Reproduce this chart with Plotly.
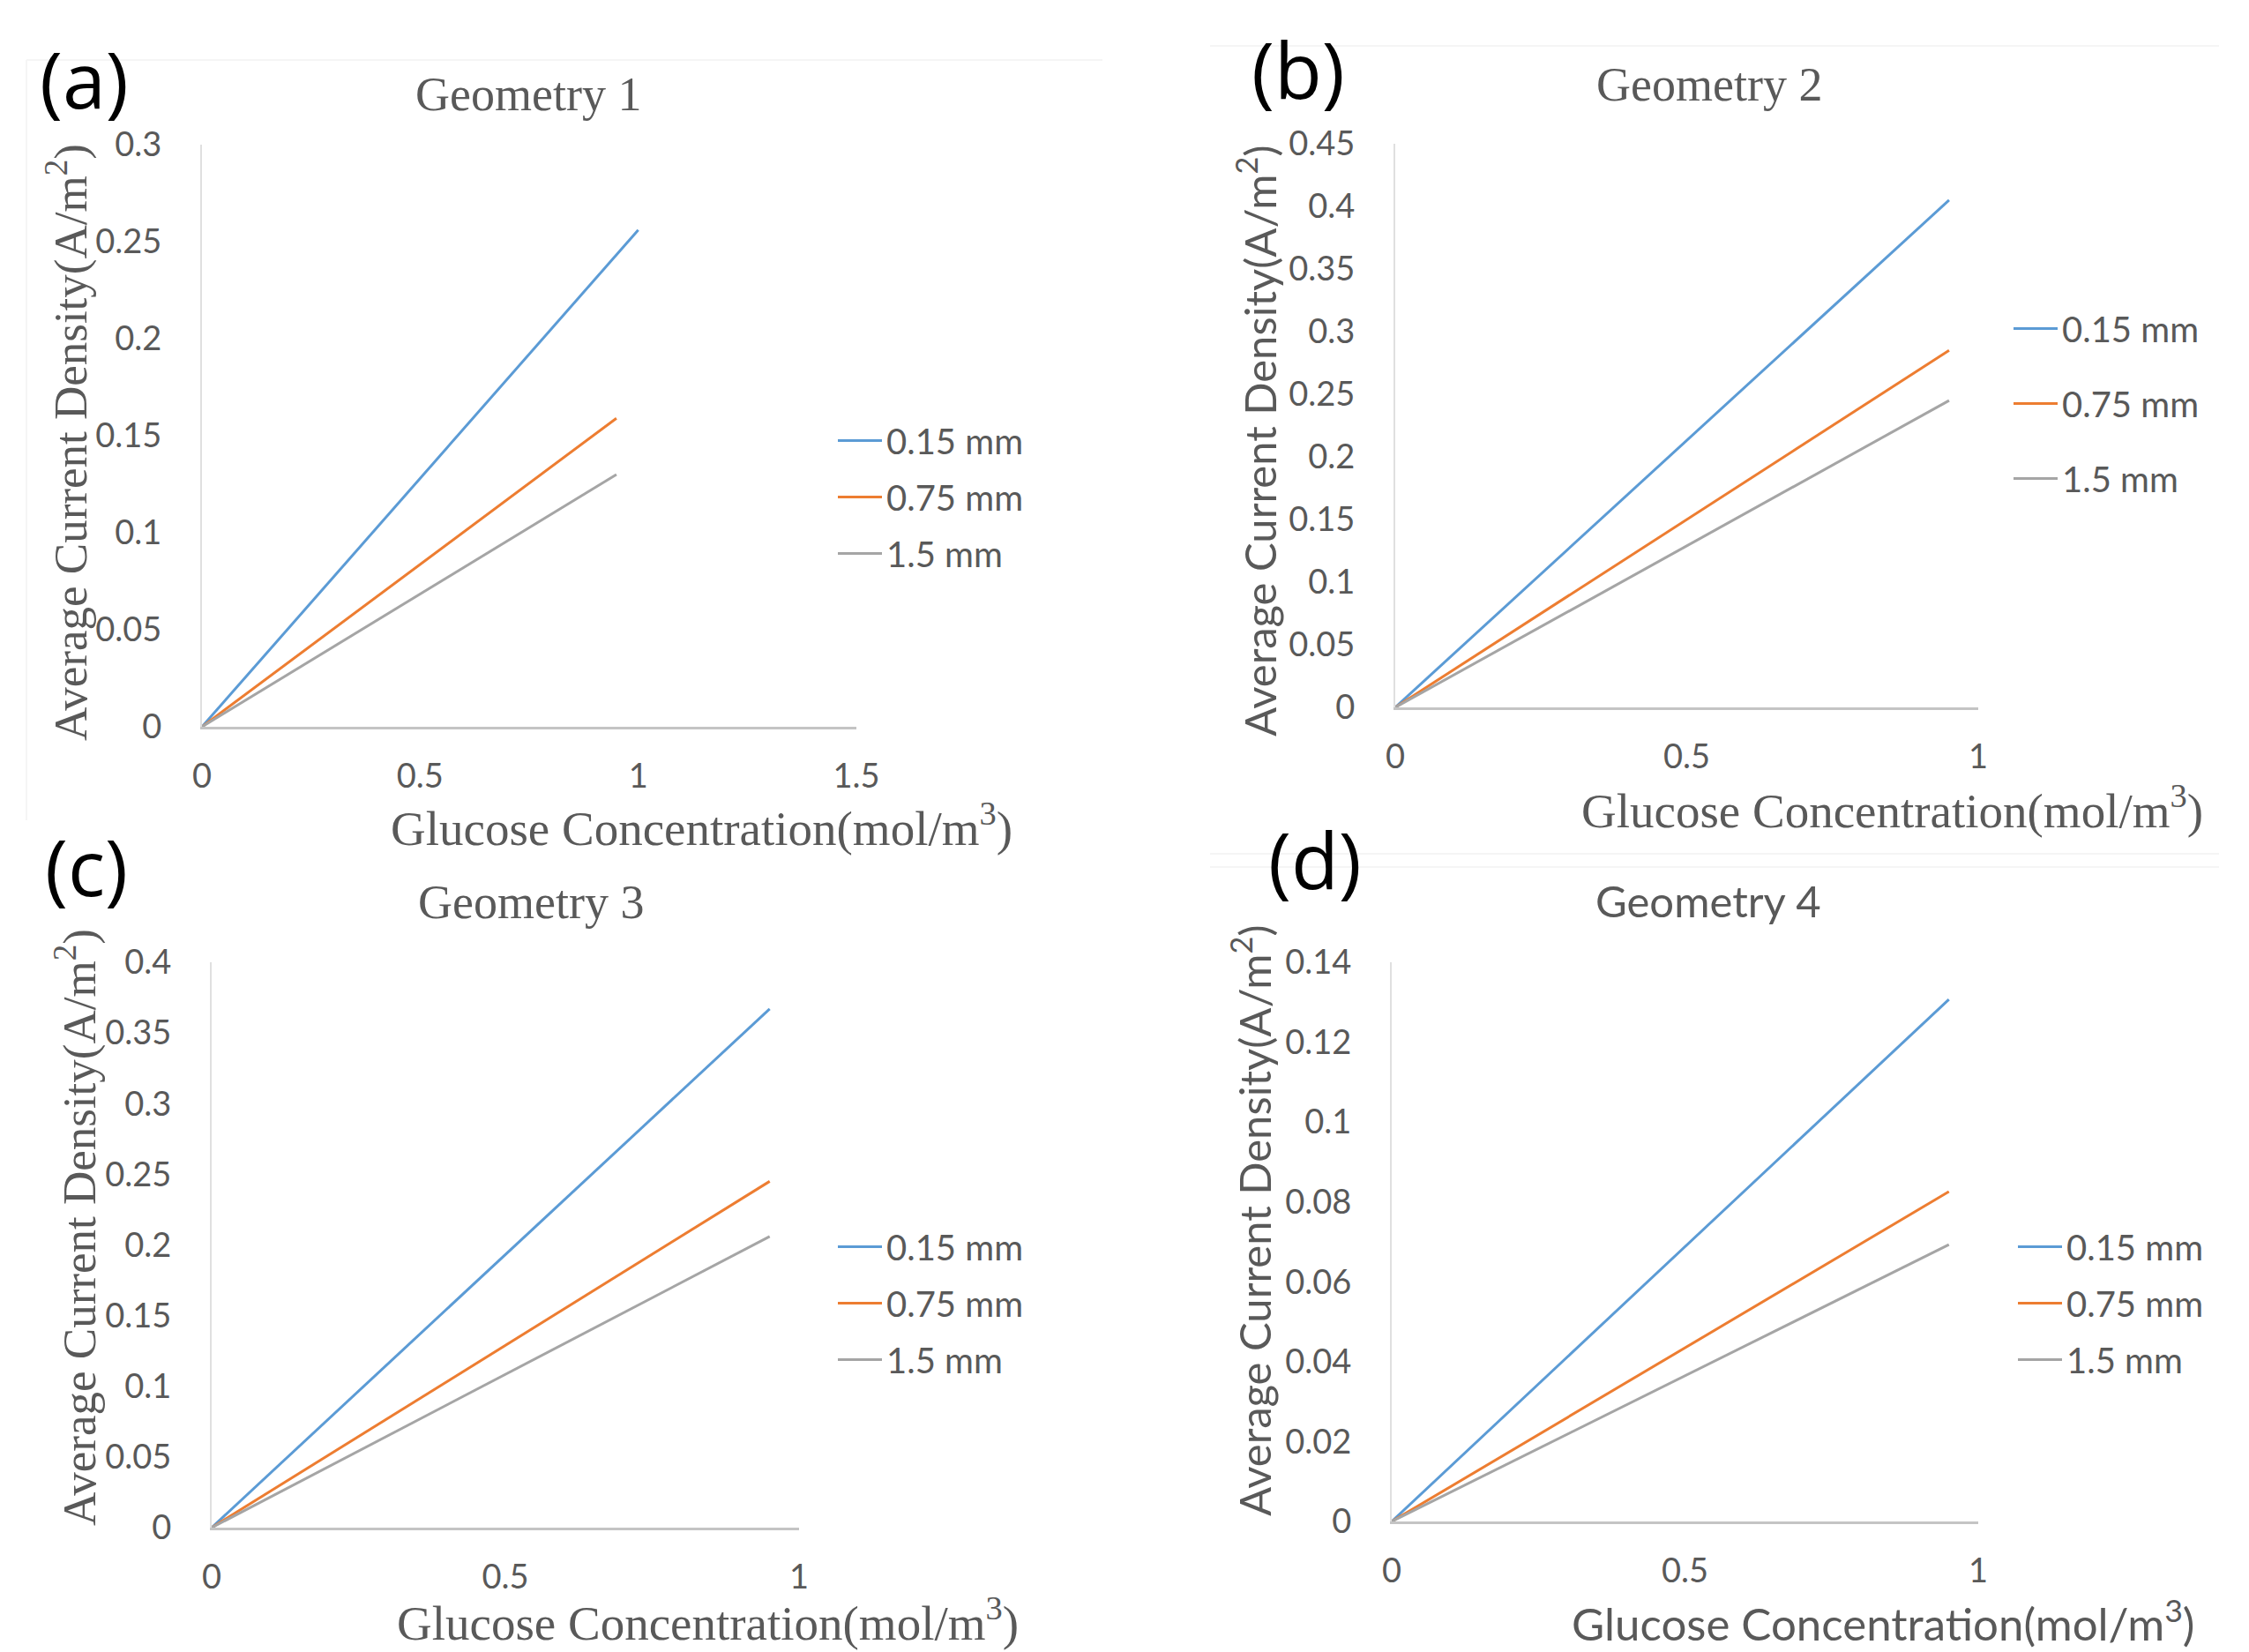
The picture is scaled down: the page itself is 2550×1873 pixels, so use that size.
import plotly.graph_objects as go

W, H = 2550, 1873

# ---------------- data ----------------
series_names = ["0.15 mm", "0.75 mm", "1.5 mm"]
series_colors = ["#5B9BD5", "#ED7D31", "#A5A5A5"]

# Geometry 1
geom1_x = [[0, 1.0], [0, 0.95], [0, 0.95]]
geom1_y = [[0, 0.256], [0, 0.159], [0, 0.130]]
# Geometry 2
geom2_x = [[0, 0.95], [0, 0.95], [0, 0.95]]
geom2_y = [[0, 0.405], [0, 0.285], [0, 0.245]]
# Geometry 3
geom3_x = [[0, 0.95], [0, 0.95], [0, 0.95]]
geom3_y = [[0, 0.367], [0, 0.245], [0, 0.206]]
# Geometry 4
geom4_x = [[0, 0.95], [0, 0.95], [0, 0.95]]
geom4_y = [[0, 0.1307], [0, 0.0826], [0, 0.0693]]

geom1_xticks = [0, 0.5, 1, 1.5]
geom1_xlabels = ["0", "0.5", "1", "1.5"]
geom1_yticks = [0, 0.05, 0.1, 0.15, 0.2, 0.25, 0.3]
geom1_ylabels = ["0", "0.05", "0.1", "0.15", "0.2", "0.25", "0.3"]

geomN_xticks = [0, 0.5, 1]
geomN_xlabels = ["0", "0.5", "1"]

geom2_yticks = [0, 0.05, 0.1, 0.15, 0.2, 0.25, 0.3, 0.35, 0.4, 0.45]
geom2_ylabels = ["0", "0.05", "0.1", "0.15", "0.2", "0.25", "0.3", "0.35", "0.4", "0.45"]
geom3_yticks = [0, 0.05, 0.1, 0.15, 0.2, 0.25, 0.3, 0.35, 0.4]
geom3_ylabels = ["0", "0.05", "0.1", "0.15", "0.2", "0.25", "0.3", "0.35", "0.4"]
geom4_yticks = [0, 0.02, 0.04, 0.06, 0.08, 0.1, 0.12, 0.14]
geom4_ylabels = ["0", "0.02", "0.04", "0.06", "0.08", "0.1", "0.12", "0.14"]

titles = ["Geometry 1", "Geometry 2", "Geometry 3", "Geometry 4"]
panel_letters = ["(a)", "(b)", "(c)", "(d)"]
xtitle = "Glucose Concentration(mol/m<sup>3</sup>)"
ytitle = "Average Current Density(A/m<sup>2</sup>)"

# ---------------- layout (pixel geometry) ----------------
SERIF = "Liberation Serif"
SANS = "Lato"
GREY = "#595959"

panels = [
    dict(xs=geom1_x, ys=geom1_y, xr=[0, 1.5], yr=[0, 0.3],
         xt=geom1_xticks, xl=geom1_xlabels, yt=geom1_yticks, yl=geom1_ylabels,
         px=(229, 971), py=(824, 164),
         title_pos=(599, 107), title_font=SERIF, title_size=54,
         xt_pos=(795, 935), xt_font=SERIF, xt_size=55,
         yt_pos=(76, 502), yt_font=SERIF, yt_size=53,
         letter_pos=(96, 89), legend_pos=(945, 467), gap=9),
    dict(xs=geom2_x, ys=geom2_y, xr=[0, 1], yr=[0, 0.45],
         xt=geomN_xticks, xl=geomN_xlabels, yt=geom2_yticks, yl=geom2_ylabels,
         px=(1582, 2243), py=(802, 163),
         title_pos=(1938, 96), title_font=SERIF, title_size=54,
         xt_pos=(2145, 915), xt_font=SERIF, xt_size=55,
         yt_pos=(1424, 500), yt_font=SANS, yt_size=49,
         letter_pos=(1472, 78), legend_pos=(2278, 340), gap=30),
    dict(xs=geom3_x, ys=geom3_y, xr=[0, 1], yr=[0, 0.4],
         xt=geomN_xticks, xl=geomN_xlabels, yt=geom3_yticks, yl=geom3_ylabels,
         px=(240, 906), py=(1732, 1091),
         title_pos=(602, 1023), title_font=SERIF, title_size=54,
         xt_pos=(802, 1836), xt_font=SERIF, xt_size=55,
         yt_pos=(86, 1392), yt_font=SERIF, yt_size=53,
         letter_pos=(98, 982), legend_pos=(945, 1381), gap=9),
    dict(xs=geom4_x, ys=geom4_y, xr=[0, 1], yr=[0, 0.14],
         xt=geomN_xticks, xl=geomN_xlabels, yt=geom4_yticks, yl=geom4_ylabels,
         px=(1578, 2243), py=(1725, 1091),
         title_pos=(1937, 1021), title_font=SANS, title_size=49,
         xt_pos=(2135, 1837), xt_font=SANS, xt_size=51,
         yt_pos=(1418, 1384), yt_font=SANS, yt_size=49,
         letter_pos=(1491, 974), legend_pos=(2283, 1381), gap=9),
]

# faint chart-area borders seen in the reference (x0, y0, x1, y1 in px)
faint_borders = [(30, 68, 1250, 68), (30, 68, 30, 930), (1372, 52, 2516, 52),
                 (1372, 968, 2516, 968), (1372, 983, 2516, 983)]


def fx(p):
    return p / W


def fy(p):
    return 1 - p / H


fig = go.Figure()
annotations = []
shapes = []
layout = dict(
    width=W, height=H, margin=dict(l=0, r=0, t=0, b=0, autoexpand=False),
    paper_bgcolor="white", plot_bgcolor="white", showlegend=True,
)

for i, p in enumerate(panels):
    k = i + 1
    xa = "x" if k == 1 else f"x{k}"
    ya = "y" if k == 1 else f"y{k}"
    lg = "legend" if k == 1 else f"legend{k}"
    for j, name in enumerate(series_names):
        fig.add_trace(go.Scatter(
            x=p["xs"][j], y=p["ys"][j], mode="lines", name=name,
            line=dict(color=series_colors[j], width=3),
            xaxis=xa, yaxis=ya, legend=lg, legendgroup=f"{k}-{j}",
            hoverinfo="skip",
        ))
    layout["xaxis" if k == 1 else f"xaxis{k}"] = dict(
        domain=[fx(p["px"][0]), fx(p["px"][1])], range=p["xr"], anchor=ya,
        tickvals=p["xt"], ticktext=p["xl"], showgrid=False, zeroline=False,
        showline=True, linecolor="#C4C4C4", linewidth=3, ticks="",
        automargin=False,
        ticklabelstandoff=20, tickfont=dict(family=SANS, size=38, color=GREY),
        fixedrange=True,
    )
    layout["yaxis" if k == 1 else f"yaxis{k}"] = dict(
        domain=[fy(p["py"][0]), fy(p["py"][1])], range=p["yr"], anchor=xa,
        tickvals=p["yt"], ticktext=p["yl"], showgrid=False, zeroline=False,
        showline=True, linecolor="#E0E0E0", linewidth=2, ticks="",
        automargin=False,
        ticklabelstandoff=36, tickfont=dict(family=SANS, size=38, color=GREY),
        fixedrange=True,
    )
    layout[lg] = dict(
        x=fx(p["legend_pos"][0]), y=fy(p["legend_pos"][1]),
        xanchor="left", yanchor="top", bgcolor="rgba(0,0,0,0)",
        font=dict(family=SANS, size=40, color=GREY),
        tracegroupgap=p["gap"], itemwidth=50,
    )
    annotations.append(dict(
        text=titles[i], x=fx(p["title_pos"][0]), y=fy(p["title_pos"][1]),
        xref="paper", yref="paper", showarrow=False, xanchor="center", yanchor="middle",
        font=dict(family=p["title_font"], size=p["title_size"], color=GREY)))
    annotations.append(dict(
        text=xtitle, x=fx(p["xt_pos"][0]), y=fy(p["xt_pos"][1]),
        xref="paper", yref="paper", showarrow=False, xanchor="center", yanchor="middle",
        font=dict(family=p["xt_font"], size=p["xt_size"], color=GREY)))
    annotations.append(dict(
        text=ytitle, x=fx(p["yt_pos"][0]), y=fy(p["yt_pos"][1]), textangle=-90,
        xref="paper", yref="paper", showarrow=False, xanchor="center", yanchor="middle",
        font=dict(family=p["yt_font"], size=p["yt_size"], color=GREY)))
    annotations.append(dict(
        text=panel_letters[i], x=fx(p["letter_pos"][0]), y=fy(p["letter_pos"][1]),
        xref="paper", yref="paper", showarrow=False, xanchor="center", yanchor="middle",
        font=dict(family="Open Sans", size=88, color="black")))

for (x0, y0, x1, y1) in faint_borders:
    shapes.append(dict(type="line", xref="paper", yref="paper",
                       x0=fx(x0), y0=fy(y0), x1=fx(x1), y1=fy(y1),
                       line=dict(color="#F5F5F5", width=2), layer="below"))

layout["annotations"] = annotations
layout["shapes"] = shapes
fig.update_layout(**layout)

fig.write_html(
    "out.html",
    config={"displayModeBar": False},
    post_script="document.body.style.margin='0';document.body.style.overflow='hidden';",
)
